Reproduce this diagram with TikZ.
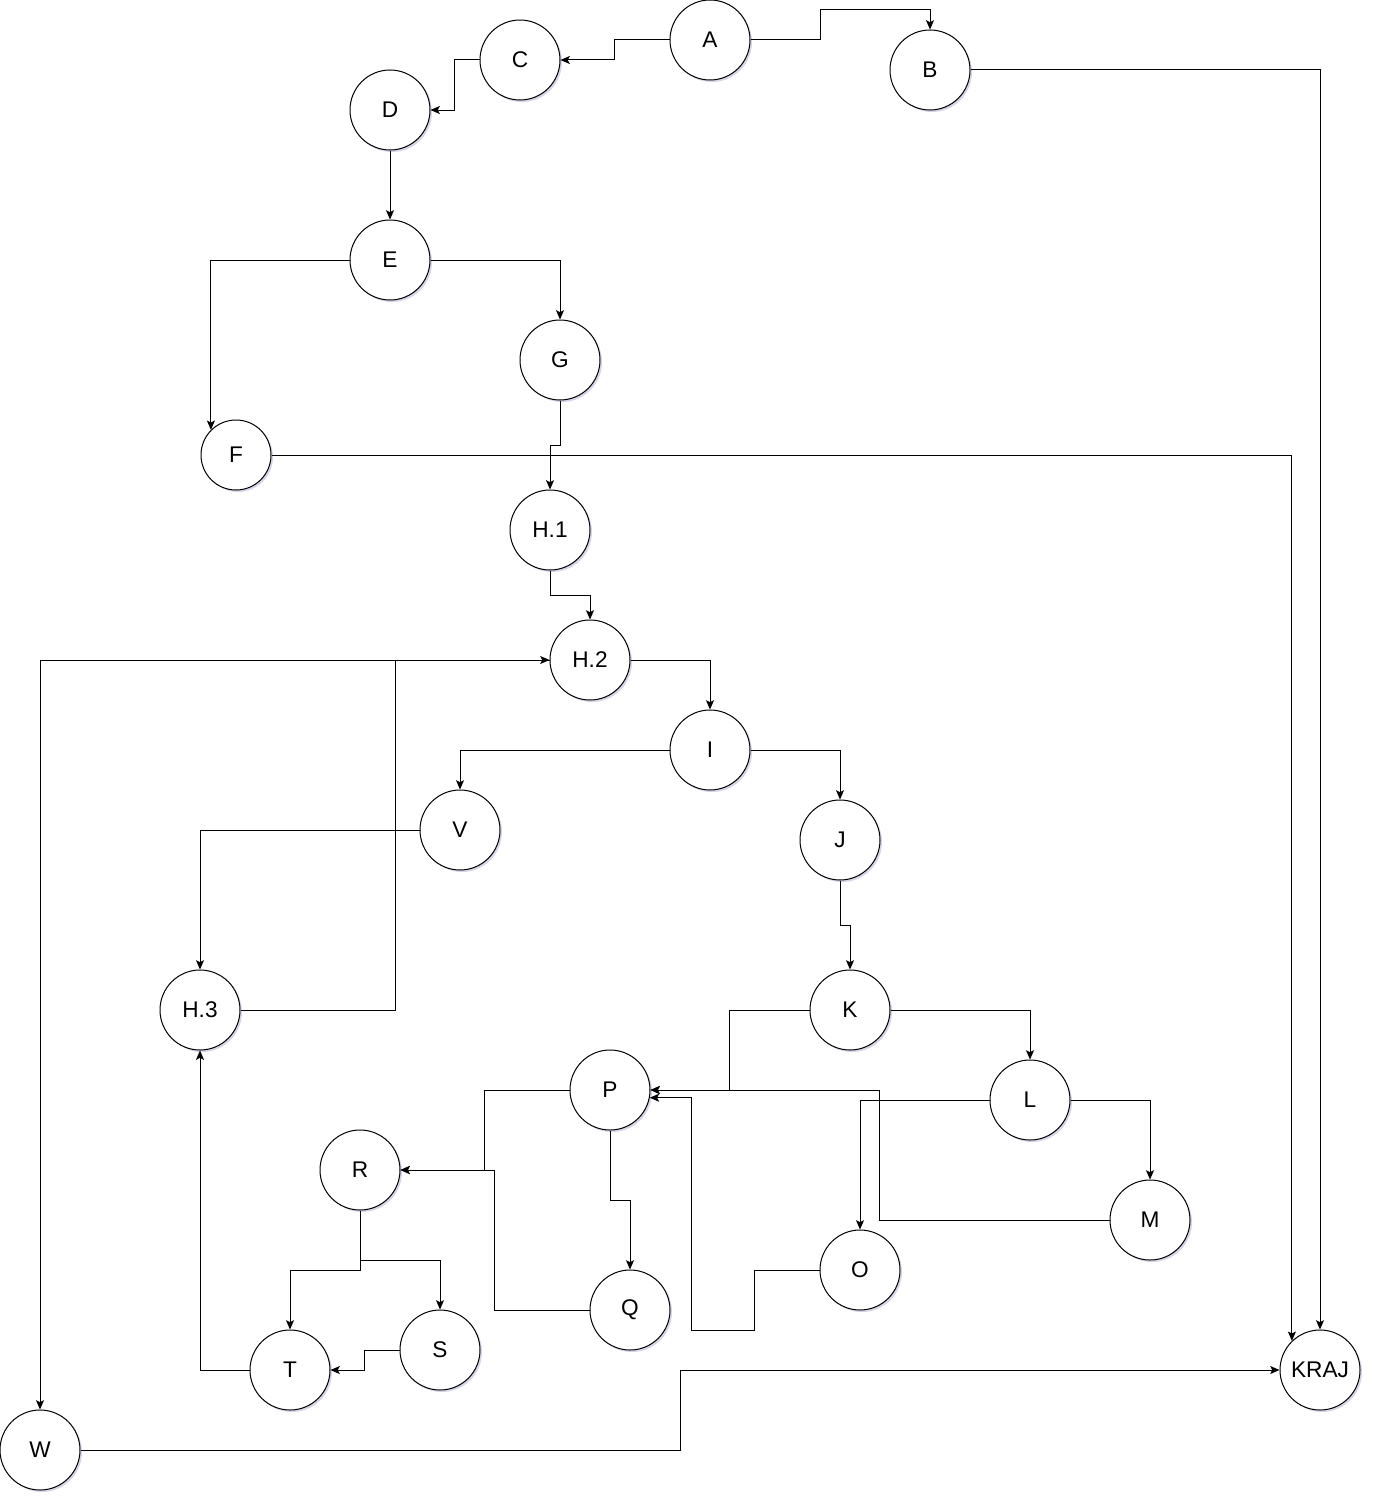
\documentclass[tikz,border=0pt]{standalone}
\usepackage{fontspec}
\setmainfont{Liberation Sans}
\usetikzlibrary{arrows.meta,shadows}

\begin{document}
\begin{tikzpicture}[x=0.75pt, y=-0.75pt,
  every node/.style={circle, draw, fill=white, minimum size=60pt, inner sep=0pt, line width=0.75pt,
    font=\fontsize{17}{20}\selectfont,
    drop shadow={shadow xshift=1.5pt, shadow yshift=-1.5pt, opacity=0.25, fill=blue!30!gray}},
  link/.style={draw, line width=0.75pt, -{Stealth[length=7pt, width=6pt, inset=1.5pt]}}]
\useasboundingbox (0,0) rectangle (1372,1502);
\node (nA) at (710, 40) {A};
\node (nB) at (930, 70) {B};
\node (nC) at (520, 60) {C};
\node (nD) at (390, 110) {D};
\node (nE) at (390, 260) {E};
\node (nG) at (560, 360) {G};
\node[minimum size=52.5pt] (nF) at (236, 455) {F};
\node (nH1) at (550, 530) {H.1};
\node (nH2) at (590, 660) {H.2};
\node (nI) at (710, 750) {I};
\node (nV) at (460, 830) {V};
\node (nJ) at (840, 840) {J};
\node (nH3) at (200, 1010) {H.3};
\node (nK) at (850, 1010) {K};
\node (nP) at (610, 1090) {P};
\node (nL) at (1030, 1100) {L};
\node (nR) at (360, 1170) {R};
\node (nM) at (1150, 1220) {M};
\node (nO) at (860, 1270) {O};
\node (nQ) at (630, 1310) {Q};
\node (nS) at (440, 1350) {S};
\node (nT) at (290, 1370) {T};
\node (nKRAJ) at (1320, 1370) {KRAJ};
\node (nW) at (40, 1450) {W};
\draw[link] (nA.west) -- ++(-55,0) |- (nC.east);
\draw[link] (nA.east) -- ++(70,0) -- ++(0,-30) -| (nB.north);
\draw[link] (nC.west) -- ++(-25,0) |- (nD.east);
\draw[link] (nB.east) -| (nKRAJ.north);
\draw[link] (nD) -- (nE);
\draw[link] (nE.west) -| (nF.135.6);
\draw[link] (nE.east) -| (nG.north);
\draw[link] (nF.east) -| (nKRAJ.134.4);
\draw[link] (nG.south) -- ++(0,45) -| (nH1.north);
\draw[link] (nH1.south) -- ++(0,25) -| (nH2.north);
\draw[link] (nH2.east) -| (nI.north);
\draw[link] (nH2.west) -| (nW.north);
\draw[link] (nH3.east) -- ++(155,0) |- (nH2.west);
\draw[link] (nI.west) -| (nV.north);
\draw[link] (nI.east) -| (nJ.north);
\draw[link] (nV.west) -| (nH3.north);
\draw[link] (nJ.south) -- ++(0,45) -| (nK.north);
\draw[link] (nK.east) -| (nL.north);
\draw[link] (nK.west) -- ++(-80,0) |- (nP.east);
\draw[link] (nL.east) -| (nM.north);
\draw[link] (nL.west) -| (nO.north);
\draw[link] (nM.west) -- ++(-230,0) |- (nP.east);
\draw[link] (nO.west) -- ++(-65,0) -- ++(0,60) -- ++(-63,0) |- (nP.-11.5);
\draw[link] (nP.west) -- ++(-85,0) |- (nR.east);
\draw[link] (nP.south) -- ++(0,70) -| (nQ.north);
\draw[link] (nQ.west) -- ++(-95,0) |- (nR.east);
\draw[link] (nR.south) -- ++(0,60) -| (nT.north);
\draw[link] (nR.south) -- ++(0,50) -| (nS.north);
\draw[link] (nS.west) -- ++(-35,0) |- (nT.east);
\draw[link] (nT.west) -| (nH3.south);
\draw[link] (nW.east) -- ++(600,0) |- (nKRAJ.west);
\end{tikzpicture}
\end{document}
